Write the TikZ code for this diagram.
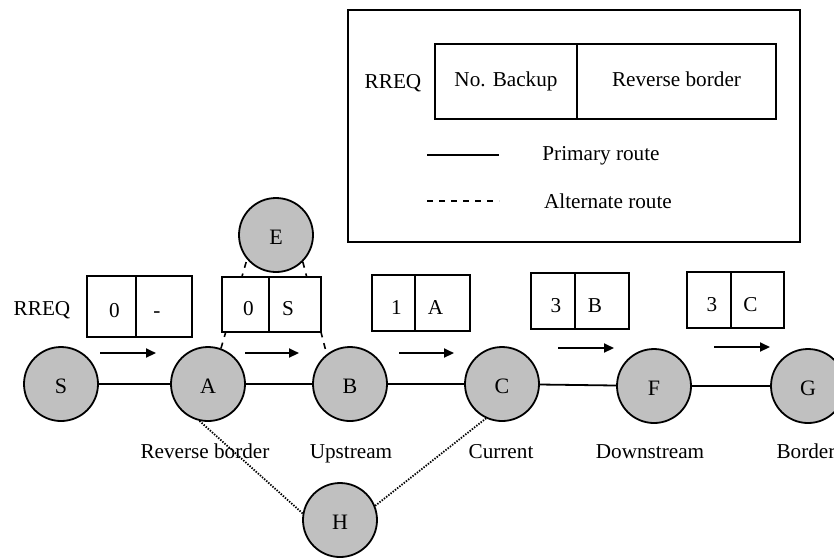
\documentclass[tikz,border=0pt]{standalone}
\usepackage{fontspec}
\setmainfont{Liberation Serif}
\usetikzlibrary{arrows.meta}
\definecolor{nodefill}{RGB}{192,192,192}
\begin{document}
\begin{tikzpicture}[x=0.5pt,y=-0.5pt,
  font=\fontsize{10.6}{12}\selectfont,
  netnode/.style={circle,draw,line width=0.9pt,fill=nodefill,minimum size=37pt,inner sep=0pt,
    font=\fontsize{11}{12}\selectfont,text height=11pt,text depth=2pt},
  cell/.style={draw,line width=0.9pt,fill=white,anchor=north west,inner sep=0pt,outer sep=0pt,
    text height=13pt,text depth=2pt},
  legendcell/.style={cell,text height=7pt,text depth=2pt},
  caption/.style={anchor=base,inner sep=0pt},
  primary/.style={line width=0.9pt},
  alternate/.style={line width=0.8pt,dash pattern=on 3pt off 3pt},
  backup/.style={line width=0.9pt,dash pattern=on 0.7pt off 0.7pt},
  flow/.style={line width=1pt,-{Triangle[length=5pt,width=4.5pt]}}]
\clip (0,0) rectangle (834,559);

% network nodes
\node[netnode] (S) at (61,384) {S};
\node[netnode] (A) at (208,384) {A};
\node[netnode] (B) at (350,384) {B};
\node[netnode] (C) at (502,384) {C};
\node[netnode] (F) at (654,386) {F};
\node[netnode] (G) at (808,386) {G};
\node[netnode] (E) at (276,235) {E};
\node[netnode] (H) at (340,520) {H};

% primary route
\draw[primary] (S) -- (A) -- (B) -- (C) -- (F) -- (G);

% alternate route through E
\draw[alternate] (A.70) -- (E.-140);
\draw[alternate] (E.-45) -- (B.128);

% backup route through H
\draw[backup] (A.-103) -- (H.170);
\draw[backup] (H.22) -- (C.-115);

% RREQ packets: No. Backup | Reverse border
\node[caption] (rreq) at (42,315) {RREQ};
\node[cell,minimum width=24.5pt,minimum height=30.5pt] (p1a) at (87,276) {\kern3pt 0};
\node[cell,minimum width=28pt,minimum height=30.5pt] (p1b) at (p1a.north east) {-\kern7pt};

\node[cell,minimum width=23.5pt,minimum height=27.5pt] (p2a) at (222,277) {\kern3pt 0};
\node[cell,minimum width=26pt,minimum height=27.5pt] (p2b) at (p2a.north east) {S\kern7pt};

\node[cell,minimum width=21.5pt,minimum height=28pt] (p3a) at (372,275) {\kern3pt 1};
\node[cell,minimum width=27.5pt,minimum height=28pt] (p3b) at (p3a.north east) {A\kern7pt};

\node[cell,minimum width=22pt,minimum height=28pt] (p4a) at (531,273) {\kern3pt 3};
\node[cell,minimum width=27pt,minimum height=28pt] (p4b) at (p4a.north east) {B\kern7pt};

\node[cell,minimum width=22pt,minimum height=28pt] (p5a) at (687,272) {\kern3pt 3};
\node[cell,minimum width=26.5pt,minimum height=28pt] (p5b) at (p5a.north east) {C\kern7pt};

% forwarding direction
\coordinate (f1s) at (100,353); \coordinate (f1e) at (156,353);
\coordinate (f2s) at (245,353); \coordinate (f2e) at (299,353);
\coordinate (f3s) at (399,353); \coordinate (f3e) at (454,353);
\coordinate (f4s) at (558,348); \coordinate (f4e) at (614,348);
\coordinate (f5s) at (714,347); \coordinate (f5e) at (770,347);
\draw[flow] (f1s) -- (f1e);
\draw[flow] (f2s) -- (f2e);
\draw[flow] (f3s) -- (f3e);
\draw[flow] (f4s) -- (f4e);
\draw[flow] (f5s) -- (f5e);

% node roles
\node[caption] (rA) at (205,458) {Reverse border};
\node[caption] (rB) at (351,458) {Upstream};
\node[caption] (rC) at (501,458) {Current};
\node[caption] (rF) at (650,458) {Downstream};
\node[caption] (rG) at (806,458) {Border};

% legend
\node[draw,line width=0.9pt,anchor=north west,minimum width=226pt,minimum height=116pt,inner sep=0pt] (legend) at (347,9) {};
\node[caption] (lrreq) at (393,88) {RREQ};
\node[legendcell,minimum width=71pt,minimum height=37.5pt] (lga) at (435,44) {No. Backup};
\node[legendcell,minimum width=99.5pt,minimum height=37.5pt] (lgb) at (lga.north east) {Reverse border};
\coordinate (lp1) at (427,155); \coordinate (lp2) at (499,155);
\draw[primary] (lp1) -- (lp2);
\node[caption] (lprim) at (601,160) {Primary route};
\coordinate (la1) at (427,201); \coordinate (la2) at (499,201);
\draw[alternate] (la1) -- (la2);
\node[caption] (lalt) at (608,208) {Alternate route};
\end{tikzpicture}
\end{document}
